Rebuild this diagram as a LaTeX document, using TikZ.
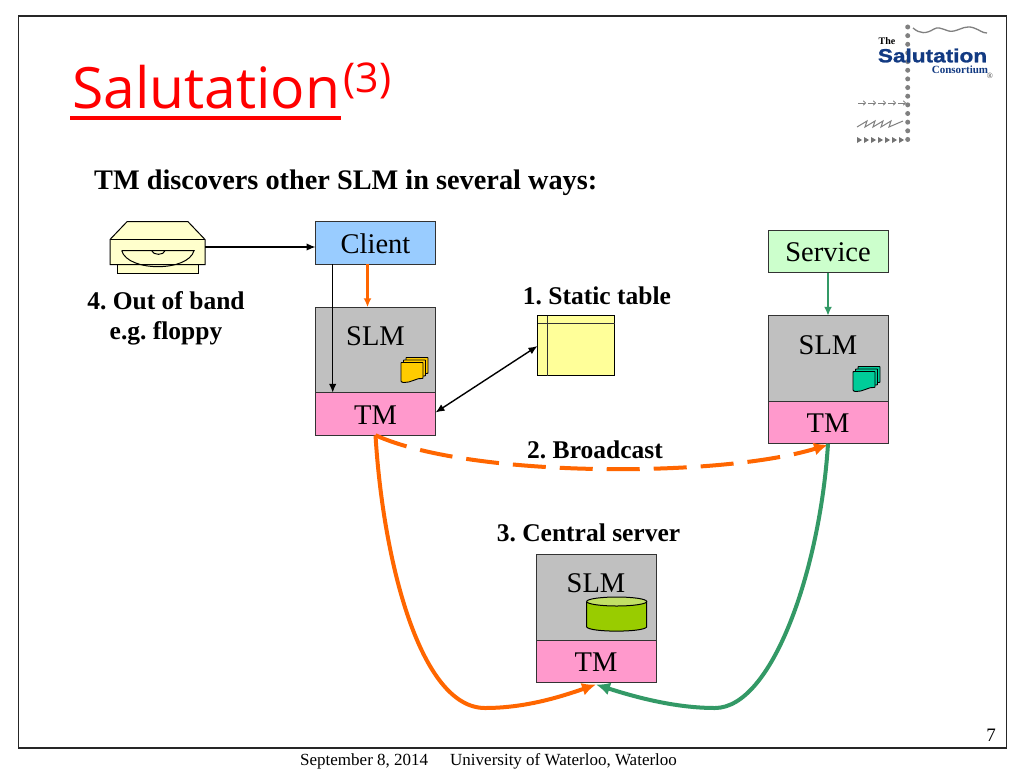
\documentclass[tikz,border=0pt]{standalone}
\usepackage{fontspec}
\setmainfont{Liberation Serif}
\newfontfamily\titlefont{Open Sans}
\newfontfamily\logofont[FakeStretch=1.19,BoldFeatures={FakeBold=1.3}]{Liberation Sans}
\usetikzlibrary{calc,arrows.meta,positioning}
\frenchspacing
\definecolor{clientblue}{HTML}{99CCFF}
\definecolor{servicegreen}{HTML}{CCFFCC}
\definecolor{slmgray}{HTML}{C0C0C0}
\definecolor{tmpink}{HTML}{FF99CC}
\definecolor{tableyellow}{HTML}{FFFF99}
\definecolor{floppyyellow}{HTML}{FFFFCC}
\definecolor{linkorange}{HTML}{FF6600}
\definecolor{linkgreen}{HTML}{339966}
\definecolor{docyellow}{HTML}{FFCC00}
\definecolor{docgreen}{HTML}{00CC99}
\definecolor{dbgreen}{HTML}{99CC00}
\definecolor{logoblue}{HTML}{123A82}
\tikzset{
  box/.style={draw=black!80,line width=1pt,minimum width=120pt,outer sep=0pt,inner sep=0pt,font=\fontsize{28.5}{29}\selectfont},
  slimbox/.style={box,minimum height=42.5pt,text depth=0pt,text height=20pt},
  slmbox/.style={box,fill=slmgray,minimum height=85.5pt},
  tmbox/.style={slimbox,fill=tmpink},
  caption/.style={inner sep=0pt,font=\fontsize{25.5}{30}\selectfont\bfseries,align=center},
  thin link/.style={-{Latex[length=9pt,width=7.5pt]},black,line width=1.4pt},
  mid link/.style={-{Latex[length=9pt,width=8pt]},line width=2.6pt},
  thick link/.style={-{Latex[length=14pt,width=13pt]},line width=4pt},
  logodot/.style={circle,fill=black!50,inner sep=0pt,minimum size=5pt}
}
% small stack of pages, #1 = top left corner of the front page
\newcommand{\pagestack}[2]{
  \foreach \off in {5,2.5,0}
    \draw [fill=#2,line width=.9pt,rounded corners=.6pt] ($ #1 + (\off,-\off) $) -- ++(22,0) -- ++(0,16)
      .. controls ($ #1 + (\off+16,-\off+15) $) and ($ #1 + (\off+10,-\off+20.5) $) .. ($ #1 + (\off+2,-\off+20) $) -- ++(-2,-1) -- cycle;
}
\begin{document}
\begin{tikzpicture}[x=1pt,y=-1pt]
\useasboundingbox (0,0) rectangle (1024,768);
\fill [white] (0,0) rectangle (1024,768);
\draw [black!85,line width=1.2pt] (18.5,16) rectangle (1006.5,748);
% title
\node [inner sep=0pt,anchor=base west,red,font=\titlefont\fontsize{57}{57}\selectfont] (Title) at (72,108) {Salutation};
\node [inner sep=0pt,anchor=base west,red,font=\titlefont\fontsize{41}{41}\selectfont] (TitleSup) at (Title.base east) [xshift=3pt,yshift=16pt] {(3)};
\draw [red,line width=4.5pt] (70,118) -- (341,118);
\node [caption,anchor=base west,font=\fontsize{28.3}{30}\selectfont\bfseries] (Head) at (94,189) {TM discovers other SLM in several ways:};
% logo
\foreach \n in {0,...,13}
  \node [logodot] (D\n) at (907.7,{27+\n*8.65}) {};
\draw [black!50,line width=1.3pt] (913,28) .. controls (920,34) and (926,34) .. (934,29) .. controls (941,25) and (946,33) .. (954,31)
  .. controls (962,29) and (966,25) .. (974,28) .. controls (980,30) and (982,33) .. (987,33);
\node [inner sep=0pt,font=\fontsize{10}{10}\selectfont\bfseries] (LogoThe) at (887,41) {The};
\node [inner sep=0pt,logoblue,font=\logofont\fontsize{19}{19}\selectfont\bfseries] (LogoName) at (932.5,55.5) {Salutation};
\node [inner sep=0pt,logoblue,font=\fontsize{11}{11}\selectfont\bfseries] (LogoSub) at (960,69.5) {Consortium};
\node [inner sep=0pt,black!70,font=\fontsize{8}{8}\selectfont] (LogoReg) at (990,76) {\textregistered};
\foreach \n in {0,...,4}
  \draw [-{To[length=3pt,width=5pt]},black!50,line width=.8pt] ({858+\n*10},103) -- ({866+\n*10},103);
\draw [black!50,line width=1pt] (857,127) -- (867,121) -- (865,127) -- (875,121) -- (873,127) -- (883,121) -- (881,127) -- (891,121) -- (889,127) -- (903,121);
\foreach \n in {0,...,6}
  \fill [black!55] ({857+\n*7},137) -- ++(5,3) -- ++(-5,3) -- cycle;
% client side
\node [slimbox,fill=clientblue] (Client) at (375.5,243) {Client};
\node [slmbox,below=43pt of Client] (SLMa) {};
\node [tmbox,below=0pt of SLMa] (TMa) {TM};
\node [inner sep=0pt,font=\fontsize{28.5}{29}\selectfont] (SLMaText) at ($ (SLMa.north) + (0,29) $) {SLM};
\pagestack{(401,362.5)}{docyellow}
% service side
\node [slimbox,fill=servicegreen] (Service) at (828,251.5) {Service};
\node [slmbox,below=43pt of Service] (SLMb) {};
\node [tmbox,below=0pt of SLMb] (TMb) {TM};
\node [inner sep=0pt,font=\fontsize{28.5}{29}\selectfont] (SLMbText) at ($ (SLMb.north) + (0,29) $) {SLM};
\pagestack{(853,371.5)}{docgreen}
% central server
\node [slmbox] (SLMc) at (596,597.25) {};
\node [tmbox,below=0pt of SLMc] (TMc) {TM};
\node [inner sep=0pt,font=\fontsize{28.5}{29}\selectfont] (SLMcText) at ($ (SLMc.north) + (0,29) $) {SLM};
\draw [fill=dbgreen,line width=1pt] (586.7,602) -- (586.7,627) .. controls (590,632.5) and (643,632.5) .. (646.7,627) -- (646.7,602) -- cycle;
\draw [fill=dbgreen!60!white,line width=1pt] (616.7,601.5) ellipse (30 and 4.5);
% static table
\node [draw,fill=tableyellow,line width=1.1pt,minimum width=77pt,minimum height=60pt,inner sep=0pt,outer sep=0pt] (Table) at (576,345.5) {};
\draw [line width=1pt,black!80] ($ (Table.north west) + (9.5,0) $) -- ($ (Table.south west) + (9.5,0) $);
\draw [line width=1pt,black!80] ($ (Table.north west) + (0,7.5) $) -- ($ (Table.north east) + (0,7.5) $);
% floppy drive
\draw [fill=floppyyellow,line width=1pt] (117,264) rectangle (198,273);
\draw [fill=floppyyellow,line width=1pt] (110,239.5) -- (127,221.7) -- (188,221.7) -- (205,239.5) -- (205,264.5) -- (110,264.5) -- cycle;
\draw [line width=1pt] (110,239.5) -- (205,239.5);
\draw [line width=1pt] (121.7,250.7) -- (194,250.7) .. controls (188,272) and (128,272) .. (121.7,250.7);
\draw [line width=1pt] (151.7,250.7) .. controls (153,255.5) and (164,255.5) .. (165,250.7);
\coordinate (Floppy) at (205,247);
% labels
\node [caption] (BandText) at (166,318) {4. Out of band\\e.g. floppy};
\node [caption] (StaticText) at (597,296) {1. Static table};
\node [caption] (BroadcastText) at (595,450) {2. Broadcast};
\node [caption] (CentralText) at (588.5,533) {3. Central server};
% links
\draw [thin link] (Floppy) -- (Client.west |- Floppy);
\draw [thin link] ($ (Client.south) + (-42.8,0) $) -- ($ (TMa.north) + (-42.8,0) $);
\draw [thin link,{Latex[length=9pt,width=7.5pt]}-{Latex[length=9pt,width=7.5pt]}] ($ (TMa.east) + (0,-1.5) $) -- ($ (Table.west) + (0,0.5) $);
\draw [mid link,linkorange] ($ (Client.south) + (-8,0) $) -- ($ (SLMa.north) + (-8,0) $);
\draw [mid link,linkgreen] (Service) -- (SLMb);
\draw [thick link,linkorange,dash pattern=on 33pt off 14pt] (TMa.south) .. controls (470,478) and (720,478) .. ($ (TMb.south) + (0,1) $);
\draw [thick link,linkorange] (TMa.south) .. controls (383,560) and (420,708) .. (485,708) .. controls (525,708) and (560,697) .. ($ (TMc.south) + (0,2) $);
\draw [thick link,linkgreen] (TMb.south) .. controls (820,570) and (772,708) .. (715,708) .. controls (675,708) and (635,697) .. ($ (TMc.south) + (0,2) $);
% footer
\node [inner sep=0pt,font=\fontsize{19}{19}\selectfont] (PageNo) at (991,735) {7};
\node [inner sep=0pt,anchor=base west,font=\fontsize{17}{17}\selectfont] (FootDate) at (300,765) {September 8, 2014};
\node [inner sep=0pt,anchor=base west,font=\fontsize{17}{17}\selectfont] (FootUni) at (450,765) {University of Waterloo, Waterloo};
\end{tikzpicture}
\end{document}
